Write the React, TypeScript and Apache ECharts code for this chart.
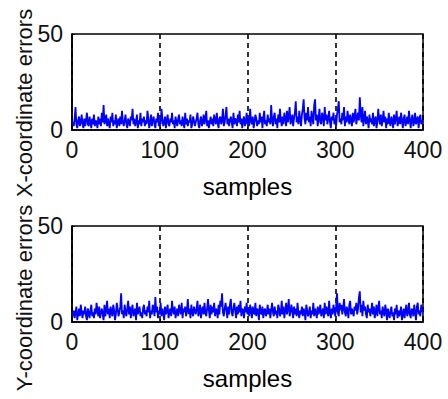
import React, { useEffect, useRef } from "react";
import * as echarts from "echarts";

const xTicks = [0, 100, 200, 300, 400];
const yTicks = [0, 50];
const xLabel = "samples";
const topYLabel = "X-coordinate errors";
const bottomYLabel = "Y-coordinate errors";

const xErrors = [
  4, 2, 6, 12, 3, 1, 5, 7, 2, 4, 8, 3, 1, 6, 2, 5, 9, 3, 2, 7,
  4, 1, 6, 3, 8, 2, 5, 4, 1, 7, 3, 6, 2, 9, 4, 13, 3, 5, 8, 2,
  6, 3, 1, 7, 4, 9, 2, 5, 3, 8, 1, 4, 6, 2, 7, 3, 10, 4, 2, 5,
  8, 3, 1, 6, 4, 2, 7, 5, 11, 3, 6, 2, 4, 8, 1, 5, 3, 9, 2, 6,
  4, 7, 2, 5, 3, 10, 6, 1, 4, 8, 2, 5, 7, 3, 1, 6, 4, 9, 2, 5,
  3, 11, 6, 2, 4, 7, 1, 5, 8, 3, 2, 6, 4, 9, 3, 5, 1, 7, 4, 2,
  6, 8, 3, 5, 2, 7, 4, 1, 9, 3, 6, 2, 5, 4, 8, 1, 3, 7, 5, 2,
  4, 6, 9, 3, 1, 5, 7, 2, 4, 8, 3, 6, 10, 2, 5, 1, 4, 7, 3, 6,
  2, 8, 5, 3, 9, 4, 1, 6, 7, 3, 5, 11, 2, 4, 8, 12, 3, 6, 2, 5,
  7, 4, 1, 9, 3, 6, 5, 2, 8, 4, 10, 3, 6, 1, 5, 7, 2, 4, 9, 3,
  6, 2, 11, 5, 3, 7, 1, 4, 8, 6, 2, 5, 3, 9, 4, 7, 1, 6, 10, 3,
  5, 2, 8, 4, 6, 3, 13, 5, 2, 7, 9, 3, 6, 1, 8, 4, 11, 5, 2, 7,
  3, 9, 6, 2, 10, 4, 7, 12, 3, 5, 8, 2, 6, 9, 15, 4, 7, 3, 10, 5,
  2, 8, 11, 16, 6, 3, 9, 5, 12, 4, 7, 2, 10, 6, 3, 13, 16, 5, 8, 2,
  6, 11, 4, 3, 9, 7, 2, 12, 5, 8, 3, 6, 10, 4, 1, 7, 5, 9, 3, 6,
  2, 8, 11, 15, 4, 6, 3, 9, 5, 12, 2, 7, 4, 10, 6, 3, 8, 5, 2, 9,
  4, 7, 11, 3, 6, 9, 5, 17, 8, 4, 12, 2, 6, 10, 3, 7, 5, 1, 8, 4,
  6, 3, 9, 2, 5, 7, 1, 4, 11, 6, 3, 8, 2, 5, 10, 4, 7, 1, 6, 3,
  9, 4, 2, 7, 5, 1, 8, 3, 6, 10, 2, 4, 7, 3, 9, 5, 1, 6, 8, 2,
  4, 7, 3, 10, 5, 1, 6, 8, 2, 4, 9, 3, 5, 7, 1, 6, 8, 3, 5, 4,
];

const yErrors = [
  3, 6, 2, 5, 8, 1, 4, 7, 3, 9, 5, 2, 6, 4, 8, 3, 1, 7, 5, 2,
  6, 9, 3, 5, 2, 7, 4, 10, 6, 3, 8, 2, 5, 7, 4, 1, 9, 3, 6, 11,
  4, 7, 2, 8, 5, 3, 9, 6, 1, 4, 10, 7, 3, 5, 8, 15, 4, 6, 2, 9,
  5, 3, 7, 11, 4, 8, 2, 6, 9, 3, 5, 7, 1, 10, 4, 6, 8, 3, 5, 2,
  7, 9, 4, 6, 3, 8, 5, 11, 2, 6, 4, 9, 7, 3, 13, 5, 8, 2, 6, 4,
  10, 3, 7, 5, 1, 8, 4, 6, 9, 2, 5, 7, 3, 11, 6, 4, 8, 2, 5, 7,
  3, 9, 6, 4, 10, 2, 7, 5, 8, 3, 6, 12, 4, 7, 2, 9, 5, 3, 8, 6,
  4, 7, 11, 3, 5, 9, 2, 6, 8, 4, 10, 5, 3, 7, 12, 6, 2, 9, 4, 8,
  5, 10, 3, 7, 6, 2, 9, 4, 11, 8, 15, 5, 3, 7, 10, 6, 2, 8, 4, 9,
  12, 5, 3, 7, 10, 6, 2, 8, 4, 9, 5, 11, 3, 7, 6, 2, 8, 5, 10, 4,
  7, 3, 9, 6, 2, 8, 5, 4, 10, 3, 7, 6, 1, 9, 5, 4, 8, 2, 6, 7,
  3, 5, 9, 4, 7, 2, 6, 10, 5, 3, 8, 4, 6, 2, 9, 7, 3, 5, 11, 4,
  8, 2, 6, 10, 4, 7, 12, 3, 5, 9, 6, 2, 8, 4, 7, 3, 10, 5, 2, 6,
  4, 8, 3, 7, 5, 1, 9, 6, 3, 5, 8, 2, 6, 4, 10, 3, 7, 5, 2, 8,
  4, 6, 9, 3, 5, 7, 2, 10, 4, 8, 6, 3, 11, 5, 2, 7, 4, 9, 6, 3,
  8, 15, 5, 3, 10, 6, 9, 4, 7, 12, 5, 3, 8, 6, 2, 9, 11, 4, 7, 5,
  3, 8, 6, 10, 4, 7, 13, 16, 5, 9, 3, 11, 6, 8, 4, 2, 9, 5, 7, 3,
  6, 10, 4, 8, 2, 5, 9, 3, 7, 11, 4, 6, 2, 8, 5, 3, 9, 6, 1, 7,
  4, 2, 6, 8, 3, 5, 1, 7, 4, 9, 2, 6, 3, 5, 8, 1, 4, 7, 2, 6,
  9, 3, 5, 10, 4, 2, 7, 6, 3, 9, 5, 1, 8, 10, 4, 6, 3, 9, 5, 7,
];

const FONT = "'Liberation Sans', Arial, Helvetica, sans-serif";

function makeXAxis(gridIndex: number) {
  return {
    type: "value" as const,
    gridIndex,
    min: xTicks[0],
    max: xTicks[xTicks.length - 1],
    interval: xTicks[1] - xTicks[0],
    name: xLabel,
    nameLocation: "middle" as const,
    nameGap: 44,
    nameTextStyle: { fontFamily: FONT, fontSize: 24, color: "#000" },
    axisLine: { show: true, onZero: false, lineStyle: { color: "#000", width: 1.5 } },
    axisTick: { show: true, inside: true, length: 3, lineStyle: { color: "#000" } },
    axisLabel: { fontFamily: FONT, fontSize: 23, color: "#111", margin: 8 },
    splitLine: { show: true, lineStyle: { color: "#000", type: [5, 4] as any, width: 1.6 } },
  };
}

function makeYAxis(gridIndex: number) {
  return {
    type: "value" as const,
    gridIndex,
    min: yTicks[0],
    max: yTicks[yTicks.length - 1],
    interval: yTicks[1] - yTicks[0],
    axisLine: { show: true, lineStyle: { color: "#000", width: 1.5 } },
    axisTick: { show: true, inside: true, length: 3, lineStyle: { color: "#000" } },
    axisLabel: { fontFamily: FONT, fontSize: 23, color: "#111", margin: 9 },
    splitLine: { show: false },
  };
}

export default function App() {
  const ref = useRef<HTMLDivElement>(null);

  useEffect(() => {
    if (!ref.current) return;
    const chart = echarts.init(ref.current, undefined, { renderer: "svg" });
    const toPairs = (arr: number[]) => arr.map((v, i) => [i + 1, v]);
    chart.setOption({
      animation: false,
      backgroundColor: "#fff",
      grid: [
        { left: 72, top: 34, width: 351, height: 96, show: true, borderColor: "#000", borderWidth: 1.5, backgroundColor: "#fff" },
        { left: 72, top: 226, width: 351, height: 96, show: true, borderColor: "#000", borderWidth: 1.5, backgroundColor: "#fff" },
      ],
      xAxis: [makeXAxis(0), makeXAxis(1)],
      yAxis: [makeYAxis(0), makeYAxis(1)],
      series: [
        {
          type: "line",
          xAxisIndex: 0,
          yAxisIndex: 0,
          data: toPairs(xErrors),
          showSymbol: false,
          symbol: "none",
          lineStyle: { color: "#0000ff", width: 1.8 },
        },
        {
          type: "line",
          xAxisIndex: 1,
          yAxisIndex: 1,
          data: toPairs(yErrors),
          showSymbol: false,
          symbol: "none",
          lineStyle: { color: "#0000ff", width: 1.8 },
        },
      ],
      graphic: [
        {
          type: "text",
          x: 24,
          y: 103,
          rotation: Math.PI / 2,
          style: {
            text: topYLabel,
            fontFamily: FONT,
            fontSize: 22,
            fill: "#111",
            align: "center",
            verticalAlign: "middle",
          },
        },
        {
          type: "text",
          x: 24,
          y: 298,
          rotation: Math.PI / 2,
          style: {
            text: bottomYLabel,
            fontFamily: FONT,
            fontSize: 22,
            fill: "#111",
            align: "center",
            verticalAlign: "middle",
          },
        },
      ],
    });
    return () => chart.dispose();
  }, []);

  return (
    <div
      ref={ref}
      style={{ position: "fixed", left: 0, top: 0, width: 448, height: 399, background: "#fff" }}
    />
  );
}
